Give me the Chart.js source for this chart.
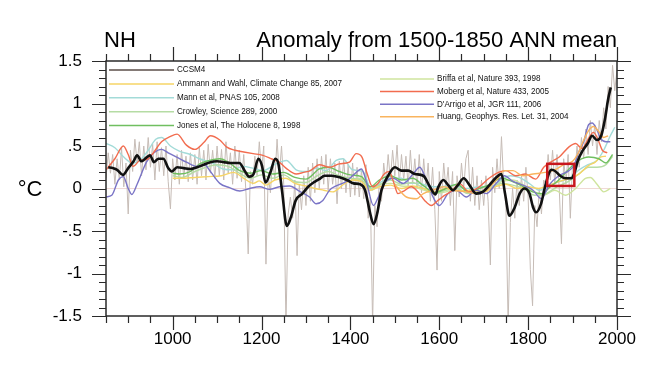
<!DOCTYPE html>
<html>
<head>
<meta charset="utf-8">
<script src="https://cdn.jsdelivr.net/npm/chart.js@4.4.1/dist/chart.umd.min.js"></script>
<style>
  body { margin: 0; background: #fff; }
  #wrap { width: 650px; height: 366px; }
</style>
</head>
<body>
<div id="wrap"><canvas id="nhChart" width="650" height="366"></canvas></div>
<script>
// ---- axis data ----
const xTickLabels = [1000, 1200, 1400, 1600, 1800, 2000];
const yTickValues = [-1.5, -1, -0.5, 0, 0.5, 1, 1.5];
const yTickLabels = ["-1.5", "-1", "-.5", "0", ".5", "1", "1.5"];

// ---- CCSM4 (grey, sampled every 5 years from 850) ----
const ccsm4StartYear = 850;
const ccsm4Step = 5;
const ccsm4Annual = [
  0.12, 0.42, 0.18, 0.40, 0.05, 0.35, 0.10, 0.48, 0.02, 0.30,      // 850
  -0.30, 0.45, 0.20, 0.58, 0.30, 0.55, 0.15, 0.50, 0.22, 0.60,     // 900
  0.25, 0.52, 0.10, 0.55, 0.20, 0.48, 0.15, 0.50, 0.08, -0.24,     // 950
  0.35, 0.10, 0.40, 0.05, 0.45, 0.12, 0.38, 0.08, 0.42, 0.10,      // 1000
  0.40, 0.05, 0.48, 0.15, 0.45, 0.10, 0.52, 0.18, 0.45, 0.12,      // 1050
  0.50, 0.15, 0.46, 0.10, 0.55, 0.18, 0.42, 0.05, 0.50, 0.12,      // 1100
  0.45, 0.08, 0.40, -0.05, -0.77, 0.20, 0.05, 0.38, 0.15, 0.55,    // 1150
  0.20, 0.50, -0.89, 0.15, -0.05, 0.35, 0.10, 0.58, 0.15, 0.50,    // 1200
  0.05, -1.60, -0.30, -0.10, -0.35, 0.10, -0.79, 0.05, -0.25, 0.15, // 1250
  -0.20, 0.25, -0.15, 0.30, -0.05, 0.35, 0.00, 0.38, 0.05, 0.40,   // 1300
  -0.02, 0.35, 0.05, 0.30, -0.18, 0.32, 0.00, 0.35, -0.05, 0.28,   // 1350
  -0.10, 0.30, -0.08, 0.25, -0.10, 0.22, -0.12, 0.28, -0.35, -0.10, // 1400
  -1.60, -0.20, -0.45, 0.10, -0.15, 0.30, 0.05, 0.40, 0.10, 0.45,  // 1450
  0.15, 0.51, 0.05, 0.40, 0.10, 0.38, 0.02, 0.45, 0.05, 0.35,      // 1500
  0.00, 0.40, -0.05, 0.35, 0.00, 0.30, -0.15, 0.25, -0.25, -0.96,  // 1550
  0.20, -0.15, 0.30, 0.00, 0.25, -0.20, 0.20, -0.73, 0.15, -0.10,  // 1600
  0.30, 0.00, 0.35, 0.45, -0.15, 0.25, -0.20, 0.15, -0.25, 0.10,   // 1650
  -0.20, 0.15, -0.15, -0.90, 0.25, -0.05, 0.35, 0.00, 0.61, 0.05,  // 1700
  -0.20, -1.60, -0.40, 0.00, -0.35, 0.10, -0.20, 0.15, -0.15, 0.25, // 1750
  -0.10, -0.95, -1.38, -0.20, -0.45, 0.00, -0.30, 0.10, 0.05, 0.40, // 1800
  0.10, 0.45, 0.05, 0.40, 0.00, -0.65, 0.35, 0.05, 0.40, -0.35,    // 1850
  0.30, 0.15, 0.50, 0.25, 0.60, 0.35, 0.70, 0.40, 0.80, 0.50,      // 1900
  0.75, 0.40, 0.80, 0.55, 0.95, 0.70, 1.20, 0.95, 1.45, 1.15,      // 1950
  1.40                                                             // 2000
];

// ---- CCSM4 smoothed (black) ----
const ccsm4SmoothYears = [855, 865, 875, 888, 900, 912, 920, 930, 940, 949, 958, 968, 979, 990, 998,
  1010, 1025, 1040, 1055, 1070, 1085, 1100, 1115, 1130, 1150, 1162, 1172, 1182, 1193, 1201, 1209,
  1220, 1231, 1238, 1246, 1257, 1266, 1277, 1292, 1305, 1317, 1330, 1342, 1358, 1377, 1392, 1407,
  1422, 1433, 1444, 1452, 1460, 1470, 1485, 1500, 1515, 1530, 1545, 1564, 1579, 1591, 1598, 1609,
  1620, 1631, 1642, 1655, 1668, 1683, 1698, 1713, 1728, 1740, 1748, 1758, 1770, 1781, 1792, 1803,
  1811, 1818, 1829, 1838, 1847, 1853, 1862, 1872, 1884, 1897, 1904, 1912, 1922, 1934, 1944, 1955,
  1965, 1973, 1980, 1986];
const ccsm4Smooth = [0.25, 0.24, 0.22, 0.16, 0.24, 0.32, 0.39, 0.32, 0.36, 0.39, 0.31, 0.35, 0.35, 0.24, 0.20,
  0.25, 0.24, 0.23, 0.25, 0.28, 0.31, 0.32, 0.31, 0.30, 0.30, 0.21, 0.14, 0.17, 0.35, 0.27, 0.07,
  0.19, 0.35, 0.29, -0.02, -0.44, -0.34, -0.14, -0.06, 0.02, 0.07, 0.11, 0.15, 0.15, 0.13, 0.10, 0.06,
  0.05, -0.02, -0.28, -0.42, -0.30, -0.02, 0.15, 0.25, 0.21, 0.21, 0.17, 0.15, 0.02, -0.07, 0.02, 0.10,
  0.04, -0.02, 0.04, 0.12, 0.04, -0.06, -0.04, 0.04, 0.13, 0.17, -0.06, -0.32, -0.22, -0.06, 0.00, -0.06,
  -0.22, -0.28, -0.18, 0.02, 0.18, 0.22, 0.20, 0.15, 0.12, 0.12, 0.18, 0.33, 0.44, 0.53, 0.62, 0.57,
  0.63, 0.82, 1.05, 1.19];

// ---- reconstructions ----
const ammannYears = [1000, 1020, 1050, 1080, 1110, 1137, 1160, 1182, 1195, 1210, 1230, 1255, 1275, 1300, 1320, 1340, 1360, 1385, 1405, 1425, 1444, 1465, 1490, 1515, 1540, 1565, 1590, 1615, 1640, 1670, 1700, 1725, 1750, 1775, 1800, 1824, 1847, 1869, 1892, 1914, 1936, 1951, 1963, 1975];
const ammann = [0.12, 0.12, 0.13, 0.14, 0.15, 0.19, 0.12, 0.06, 0.09, 0.04, 0.10, 0.12, 0.06, 0.03, 0.00, -0.02, -0.04, 0.05, 0.10, 0.08, -0.02, 0.02, 0.04, 0.00, 0.03, 0.00, -0.04, 0.00, -0.03, -0.02, -0.04, 0.02, 0.05, 0.00, 0.02, 0.00, 0.04, 0.08, 0.12, 0.17, 0.27, 0.31, 0.37, 0.38];

const mannYears = [850, 870, 890, 910, 930, 945, 962, 975, 995, 1015, 1040, 1060, 1090, 1113, 1135, 1158, 1180, 1203, 1233, 1256, 1278, 1300, 1325, 1345, 1368, 1383, 1405, 1428, 1448, 1470, 1492, 1515, 1534, 1555, 1575, 1600, 1630, 1660, 1690, 1720, 1745, 1760, 1780, 1805, 1825, 1845, 1870, 1895, 1915, 1935, 1955, 1970, 1985, 1995];
const mann = [0.53, 0.48, 0.37, 0.30, 0.35, 0.45, 0.58, 0.60, 0.50, 0.44, 0.40, 0.35, 0.30, 0.23, 0.22, 0.26, 0.24, 0.21, 0.29, 0.33, 0.22, 0.20, 0.24, 0.21, 0.33, 0.35, 0.22, 0.20, -0.02, 0.08, 0.12, 0.12, 0.06, 0.06, 0.03, 0.02, 0.04, 0.00, 0.02, 0.03, 0.12, 0.15, 0.13, 0.05, -0.02, 0.03, 0.08, 0.13, 0.22, 0.28, 0.33, 0.45, 0.62, 0.72];

const crowleyYears = [1000, 1020, 1050, 1075, 1100, 1125, 1150, 1175, 1200, 1225, 1250, 1275, 1300, 1325, 1350, 1375, 1400, 1425, 1445, 1465, 1490, 1515, 1540, 1565, 1590, 1615, 1640, 1665, 1690, 1715, 1740, 1765, 1790, 1815, 1840, 1865, 1890, 1914, 1936, 1955, 1975, 1990];
const crowley = [0.15, 0.13, 0.20, 0.25, 0.28, 0.26, 0.18, 0.12, 0.16, 0.12, 0.16, 0.08, 0.07, 0.15, 0.20, 0.15, 0.12, 0.10, 0.00, 0.04, 0.10, 0.05, 0.07, 0.00, -0.06, -0.02, 0.00, -0.06, -0.04, 0.00, 0.06, 0.04, 0.00, -0.08, -0.06, 0.02, 0.08, 0.17, 0.25, 0.25, 0.28, 0.38];

const jonesYears = [1000, 1016, 1040, 1061, 1083, 1106, 1128, 1151, 1175, 1200, 1225, 1250, 1275, 1300, 1330, 1350, 1375, 1400, 1425, 1445, 1465, 1490, 1515, 1540, 1565, 1590, 1615, 1640, 1665, 1690, 1715, 1740, 1765, 1790, 1810, 1830, 1850, 1869, 1892, 1914, 1936, 1959, 1975, 1990];
const jones = [0.18, 0.17, 0.20, 0.29, 0.33, 0.35, 0.30, 0.21, 0.18, 0.21, 0.17, 0.19, 0.13, 0.11, 0.23, 0.25, 0.20, 0.16, 0.14, 0.02, 0.10, 0.15, 0.10, 0.12, 0.03, -0.05, 0.00, 0.05, -0.04, 0.00, 0.05, 0.12, 0.08, 0.02, -0.04, -0.06, 0.02, 0.10, 0.23, 0.33, 0.37, 0.35, 0.30, 0.40];

const briffaYears = [1402, 1425, 1445, 1465, 1490, 1515, 1540, 1565, 1590, 1615, 1640, 1665, 1690, 1715, 1740, 1765, 1790, 1815, 1835, 1860, 1884, 1907, 1929, 1940, 1955, 1970, 1985];
const briffa = [0.10, 0.12, 0.02, 0.05, 0.06, 0.03, 0.02, -0.02, -0.06, -0.04, 0.00, -0.05, -0.03, 0.00, 0.08, 0.10, 0.04, -0.04, -0.08, -0.02, -0.08, 0.00, 0.12, 0.13, 0.05, -0.04, 0.00];

const mobergYears = [850, 870, 889, 900, 911, 926, 945, 958, 975, 994, 1010, 1031, 1050, 1070, 1085, 1106, 1121, 1140, 1160, 1181, 1203, 1222, 1240, 1255, 1278, 1295, 1310, 1330, 1353, 1375, 1398, 1413, 1426, 1438, 1450, 1462, 1476, 1487, 1497, 1507, 1520, 1537, 1552, 1567, 1582, 1595, 1607, 1630, 1645, 1667, 1690, 1712, 1733, 1750, 1772, 1794, 1817, 1835, 1854, 1870, 1892, 1907, 1921, 1936, 1947, 1957, 1967, 1978];
const moberg = [0.22, 0.35, 0.50, 0.40, 0.26, 0.33, 0.35, 0.43, 0.55, 0.61, 0.64, 0.51, 0.46, 0.54, 0.62, 0.57, 0.49, 0.45, 0.43, 0.41, 0.39, 0.35, 0.31, 0.24, 0.17, 0.19, 0.21, 0.28, 0.25, 0.29, 0.31, 0.41, 0.37, 0.17, 0.02, 0.06, 0.17, 0.20, 0.08, -0.06, -0.03, 0.02, -0.04, -0.14, -0.20, -0.15, -0.10, -0.02, 0.06, -0.04, 0.02, 0.12, 0.19, 0.21, 0.15, 0.17, 0.11, 0.25, 0.32, 0.37, 0.49, 0.53, 0.47, 0.59, 0.66, 0.58, 0.45, 0.42];

const darrigoYears = [850, 863, 878, 889, 900, 908, 920, 941, 958, 975, 990, 1009, 1031, 1054, 1072, 1085, 1106, 1128, 1151, 1173, 1196, 1218, 1240, 1263, 1285, 1308, 1323, 1338, 1353, 1368, 1390, 1407, 1425, 1436, 1452, 1463, 1478, 1496, 1519, 1541, 1556, 1571, 1588, 1600, 1620, 1638, 1661, 1683, 1706, 1728, 1747, 1764, 1788, 1811, 1830, 1847, 1869, 1892, 1903, 1914, 1925, 1936, 1944, 1955, 1963, 1975, 1985];
const darrigo = [-0.10, -0.08, 0.10, 0.14, 0.00, -0.07, 0.05, 0.31, 0.42, 0.46, 0.42, 0.37, 0.31, 0.26, 0.28, 0.20, 0.06, 0.01, -0.03, 0.00, 0.02, -0.01, 0.02, 0.03, -0.03, -0.10, -0.18, -0.14, -0.02, 0.03, 0.08, 0.16, 0.23, 0.08, -0.20, -0.10, 0.07, 0.12, 0.06, 0.17, 0.25, 0.10, -0.12, -0.20, -0.06, -0.02, -0.10, -0.02, -0.06, 0.06, 0.15, 0.09, 0.04, -0.02, -0.12, 0.04, 0.15, 0.21, 0.27, 0.43, 0.55, 0.75, 0.77, 0.69, 0.59, 0.55, 0.55];

const huangYears = [1500, 1507, 1526, 1549, 1564, 1586, 1610, 1635, 1661, 1685, 1706, 1728, 1747, 1766, 1788, 1811, 1838, 1860, 1880, 1900, 1914, 1921, 1936, 1947, 1959, 1970, 1980];
const huang = [0.05, 0.00, -0.10, -0.12, -0.06, -0.02, 0.02, -0.02, -0.04, -0.06, -0.02, 0.10, 0.21, 0.21, 0.15, 0.17, 0.19, 0.22, 0.28, 0.32, 0.43, 0.52, 0.68, 0.73, 0.67, 0.60, 0.62];

// highlighted period (red box)
const highlightYears = [1843, 1904];
const highlightRange = [0.03, 0.29];

const toPoints = (years, values) => years.map((yr, i) => ({ x: yr, y: values[i] }));
const ccsm4Years = ccsm4Annual.map((_, i) => ccsm4StartYear + i * ccsm4Step);

const legendLeft = ["CCSM4", "Ammann and Wahl, Climate Change 85, 2007", "Mann et al, PNAS 105, 2008",
  "Crowley, Science 289, 2000", "Jones et al, The Holocene 8, 1998"];
const legendRight = ["Briffa et al, Nature 393, 1998", "Moberg et al, Nature 433, 2005",
  "D'Arrigo et al, JGR 111, 2006", "Huang, Geophys. Res. Let. 31, 2004"];

const recon = (label, years, values, color, order) => ({
  label, data: toPoints(years, values), borderColor: color, borderWidth: 1.4,
  pointRadius: 0, cubicInterpolationMode: "monotone", order, clip: 0,
});

const datasets = [
  { label: "CCSM4 smoothed", data: toPoints(ccsm4SmoothYears, ccsm4Smooth), borderColor: "#111111",
    borderWidth: 2.6, pointRadius: 0, cubicInterpolationMode: "monotone", order: 0, clip: 0 },
  recon("Ammann and Wahl, Climate Change 85, 2007", ammannYears, ammann, "#f6d466", 5),
  recon("Mann et al, PNAS 105, 2008", mannYears, mann, "#a3dbd8", 7),
  recon("Crowley, Science 289, 2000", crowleyYears, crowley, "#b5dca4", 6),
  recon("Jones et al, The Holocene 8, 1998", jonesYears, jones, "#70bf60", 4),
  recon("Briffa et al, Nature 393, 1998", briffaYears, briffa, "#cfe49e", 8),
  recon("Moberg et al, Nature 433, 2005", mobergYears, moberg, "#f26c4f", 2),
  recon("D'Arrigo et al, JGR 111, 2006", darrigoYears, darrigo, "#7a74c6", 3),
  recon("Huang, Geophys. Res. Let. 31, 2004", huangYears, huang, "#f9b45e", 1),
  { label: "CCSM4", data: toPoints(ccsm4Years, ccsm4Annual), borderColor: "#c6bcb6",
    borderWidth: 1, pointRadius: 0, tension: 0, order: 10, clip: 0 },
];

const FONT = "'Liberation Sans', Arial, Helvetica, sans-serif";

// NCL-style frame, ticks, titles, legend and highlight box
const nclDecor = {
  id: "nclDecor",
  beforeDatasetsDraw(chart) {
    const { ctx, chartArea: a, scales: { y } } = chart;
    const y0 = y.getPixelForValue(0);
    ctx.save();
    ctx.strokeStyle = "#f0d9d6";
    ctx.lineWidth = 1;
    ctx.beginPath();
    ctx.moveTo(a.left, y0);
    ctx.lineTo(a.right, y0);
    ctx.stroke();
    ctx.restore();
  },
  afterDatasetsDraw(chart) {
    const { ctx, scales: { x, y } } = chart;
    const x1 = x.getPixelForValue(highlightYears[0]);
    const x2 = x.getPixelForValue(highlightYears[1]);
    const y1 = y.getPixelForValue(highlightRange[1]);
    const y2 = y.getPixelForValue(highlightRange[0]);
    ctx.save();
    ctx.strokeStyle = "#c8161d";
    ctx.lineWidth = 2.5;
    ctx.strokeRect(x1, y1, x2 - x1, y2 - y1);
    ctx.restore();
  },
  afterDraw(chart) {
    const { ctx, chartArea: a, scales: { x, y } } = chart;
    ctx.save();
    // frame
    ctx.strokeStyle = "#2a2a2a";
    ctx.lineWidth = 1.5;
    ctx.strokeRect(a.left, a.top, a.right - a.left, a.bottom - a.top);

    // x ticks: minor every 50 years, major on labels
    ctx.lineWidth = 1.2;
    ctx.beginPath();
    for (let yr = 850; yr <= 2000; yr += 50) {
      const px = Math.round(x.getPixelForValue(yr)) + 0.5;
      const len = xTickLabels.includes(yr) ? 14 : 7;
      ctx.moveTo(px, a.bottom); ctx.lineTo(px, a.bottom + len);
      ctx.moveTo(px, a.top); ctx.lineTo(px, a.top - len);
    }
    // y ticks: minor every 0.1, major every 0.5
    for (let k = -15; k <= 15; k++) {
      const py = Math.round(y.getPixelForValue(k / 10)) + 0.5;
      const len = k % 5 === 0 ? 14 : 7;
      ctx.moveTo(a.left, py); ctx.lineTo(a.left - len, py);
      ctx.moveTo(a.right, py); ctx.lineTo(a.right + len, py);
    }
    ctx.stroke();

    // titles
    ctx.fillStyle = "#000";
    ctx.font = "22px " + FONT;
    ctx.textBaseline = "alphabetic";
    ctx.textAlign = "left";
    ctx.fillText("NH", 104, 47);
    ctx.textAlign = "right";
    ctx.fillText("Anomaly from 1500-1850 ANN mean", a.right, 47);
    ctx.textAlign = "center";
    ctx.textBaseline = "middle";
    ctx.fillText("\u00B0C", 30, 190);

    // legend (text squeezed a little, like the narrow NCL font)
    const drawEntry = (label, lx1, lx2, tx, ty) => {
      const ds = chart.data.datasets.find(d => d.label === label);
      ctx.strokeStyle = label === "CCSM4" ? "#847a76" : ds.borderColor;
      ctx.lineWidth = label === "CCSM4" ? 2 : 1.5;
      ctx.beginPath();
      ctx.moveTo(lx1, ty); ctx.lineTo(lx2, ty);
      ctx.stroke();
      ctx.save();
      ctx.translate(tx, ty);
      ctx.scale(0.9, 1);
      ctx.fillStyle = "#111";
      ctx.font = "9px " + FONT;
      ctx.textAlign = "left";
      ctx.textBaseline = "middle";
      ctx.fillText(label, 0, 0);
      ctx.restore();
    };
    legendLeft.forEach((lab, i) => drawEntry(lab, 109, 174, 177, 70 + i * 13.9));
    legendRight.forEach((lab, i) => drawEntry(lab, 380, 434, 437, 79 + i * 12.6));
    ctx.restore();
  },
};

new Chart(document.getElementById("nhChart"), {
  type: "line",
  data: { datasets },
  options: {
    responsive: false,
    animation: false,
    events: [],
    layout: { padding: { top: 61, right: 33, left: 0, bottom: 0 } },
    plugins: { legend: { display: false }, tooltip: { enabled: false } },
    scales: {
      x: {
        type: "linear", min: 850, max: 2000,
        grid: { display: false, drawTicks: false },
        border: { display: false },
        afterBuildTicks: s => { s.ticks = xTickLabels.map(v => ({ value: v })); },
        afterFit: s => { s.height = 50; },
        ticks: { padding: 13, color: "#000", autoSkip: false, maxRotation: 0,
          font: { size: 17, family: FONT }, callback: v => String(v) },
      },
      y: {
        type: "linear", min: -1.5, max: 1.5,
        grid: { display: false, drawTicks: false },
        border: { display: false },
        afterBuildTicks: s => { s.ticks = yTickValues.map(v => ({ value: v })); },
        afterFit: s => { s.width = 106; },
        ticks: { padding: 24, color: "#000", autoSkip: false,
          font: { size: 17, family: FONT },
          callback: v => yTickLabels[yTickValues.indexOf(v)] },
      },
    },
  },
  plugins: [nclDecor],
});
</script>
</body>
</html>
